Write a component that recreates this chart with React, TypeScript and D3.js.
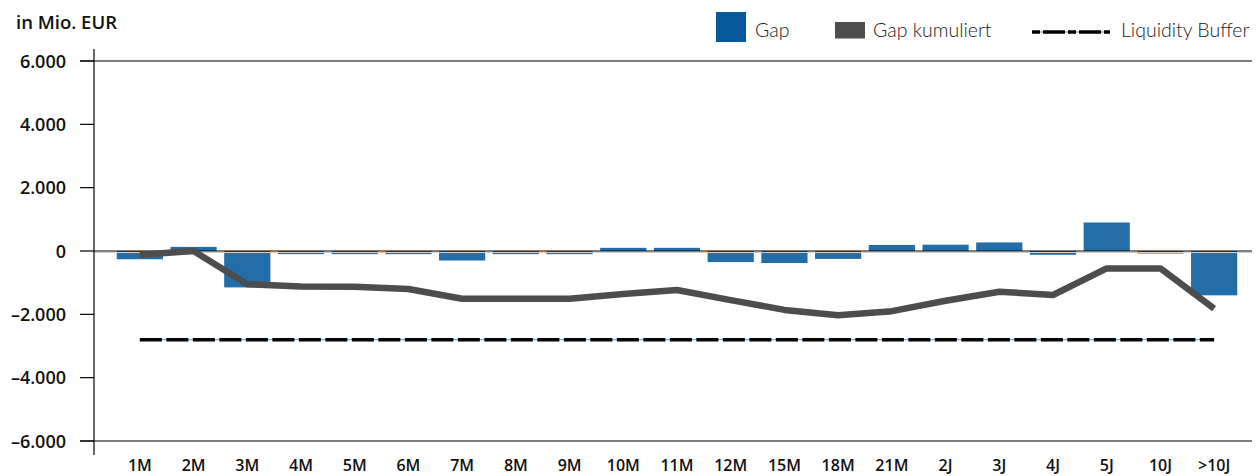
import { useMemo } from 'react';
import * as d3 from 'd3';

const categories = ['1M', '2M', '3M', '4M', '5M', '6M', '7M', '8M', '9M', '10M', '11M', '12M', '15M', '18M', '21M', '2J', '3J', '4J', '5J', '10J', '>10J'];
const gapValues = [-260, 130, -1150, -100, -100, -100, -300, -100, -100, 100, 100, -350, -380, -250, 190, 200, 270, -120, 900, -80, -1400];
const gapCumulative = [-120, 0, -1050, -1120, -1130, -1200, -1510, -1510, -1510, -1360, -1230, -1550, -1860, -2030, -1900, -1570, -1285, -1390, -550, -550, -1820];
const liquidityBuffer = -2800;
const yTicks = [6000, 4000, 2000, 0, -2000, -4000, -6000];

const BAR_COLOR = '#236ea9';
const LEGEND_BLUE = '#07599b';
const LINE_COLOR = '#4d4d4d';
const AXIS_FONT = '"Open Sans", Lato, sans-serif';
const LEGEND_FONT = 'Lato, "Open Sans", sans-serif';

const W = 1260;
const H = 476;

const fmt = (v: number) => (v === 0 ? '0' : d3.format(',')(v).replace(/,/g, '.').replace('−', '–').replace('-', '–'));

export default function App() {
  const x = useMemo(
    () => d3.scaleBand<string>().domain(categories).range([113, 1241]).paddingInner(0.14).paddingOuter(0.07),
    []
  );
  const y = useMemo(() => d3.scaleLinear().domain([-6000, 6000]).range([441, 61]), []);

  const cx = (c: string) => (x(c) ?? 0) + x.bandwidth() / 2;

  const linePath = d3
    .line<number>()
    .x((_, i) => cx(categories[i]))
    .y((d) => y(d))(gapCumulative) ?? '';

  const bufX0 = cx(categories[0]);
  const bufX1 = cx(categories[categories.length - 1]);
  const axisX = 94;
  const y0 = y(0);

  return (
    <svg width={W} height={H} style={{ position: 'absolute', left: 0, top: 0, background: '#fff' }} fontFamily={AXIS_FONT}>
      {/* unit label */}
      <text x={16} y={29} fontSize={18.5} fontWeight={600} fill="#111">in Mio. EUR</text>

      {/* legend */}
      <g fontFamily={LEGEND_FONT} fontSize={19.5} fontWeight={300} fill="#222">
        <rect x={716} y={12} width={30} height={30} fill={LEGEND_BLUE} />
        <text x={755} y={37}>Gap</text>
        <rect x={835} y={22} width={30} height={16.5} fill={LINE_COLOR} />
        <text x={873} y={37}>Gap kumuliert</text>
        <line x1={1032} x2={1110} y1={32} y2={32} stroke="#5b9bd5" strokeWidth={1} />
        <line x1={1032} x2={1110} y1={32} y2={32} stroke="#000" strokeWidth={3.5} strokeDasharray="8 3 22 3" />
        <text x={1121} y={37}>Liquidity Buffer</text>
      </g>

      {/* top and bottom frame lines */}
      <line x1={80} x2={1252} y1={y(6000)} y2={y(6000)} stroke="#000" strokeWidth={1.2} />
      <line x1={80} x2={1252} y1={y(-6000)} y2={y(-6000)} stroke="#000" strokeWidth={1.2} />

      {/* y ticks */}
      {yTicks.map((t) => (
        <g key={t}>
          <line x1={80} x2={axisX} y1={y(t)} y2={y(t)} stroke="#000" strokeWidth={1.2} />
          <text x={66} y={y(t) + 6.5} textAnchor="end" fontSize={18} fontWeight={600} fill="#111">
            {fmt(t)}
          </text>
        </g>
      ))}

      {/* bars */}
      {gapValues.map((v, i) => (
        <rect
          key={categories[i]}
          x={x(categories[i])}
          y={Math.min(y(v), y0)}
          width={x.bandwidth()}
          height={Math.abs(y(v) - y0)}
          fill={BAR_COLOR}
        />
      ))}

      {/* zero line */}
      <line x1={axisX} x2={1252} y1={y0 + 1.5} y2={y0 + 1.5} stroke="#cfcfcf" strokeWidth={1} />
      <line x1={axisX} x2={1252} y1={y0} y2={y0} stroke="#000" strokeWidth={1.2} />

      {/* y axis */}
      <line x1={axisX} x2={axisX} y1={49} y2={455} stroke="#000" strokeWidth={1.2} />

      {/* cumulative gap */}
      <path d={linePath} fill="none" stroke={LINE_COLOR} strokeWidth={6.5} strokeLinejoin="round" />

      {/* liquidity buffer */}
      <line x1={bufX0} x2={bufX1} y1={y(liquidityBuffer)} y2={y(liquidityBuffer)} stroke="#5b9bd5" strokeWidth={1} />
      <line x1={bufX0} x2={bufX1} y1={y(liquidityBuffer)} y2={y(liquidityBuffer)} stroke="#000" strokeWidth={3.5} strokeDasharray="22 4.5" />

      {/* x labels */}
      {categories.map((c) => (
        <text key={c} x={cx(c)} y={471} textAnchor="middle" fontSize={16} fontWeight={600} fill="#111">
          {c}
        </text>
      ))}
    </svg>
  );
}
